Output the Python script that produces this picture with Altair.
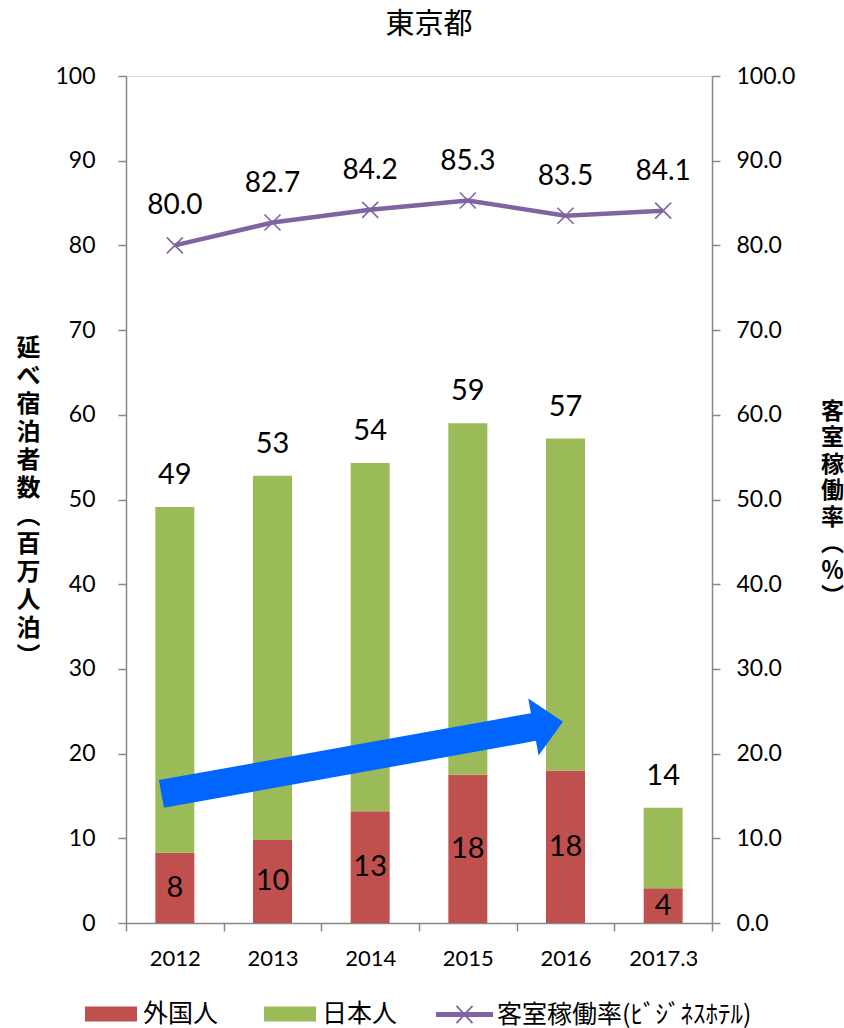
import altair as alt
import pandas as pd

years = ["2012", "2013", "2014", "2015", "2016", "2017.3"]
foreign = [8.3, 9.8, 13.2, 17.5, 18.0, 4.1]
japanese = [40.8, 43.0, 41.1, 41.5, 39.2, 9.5]
occupancy = [80.0, 82.7, 84.2, 85.3, 83.5, 84.1]

series_names = ["外国人", "日本人"]
line_name = "客室稼働率(ﾋﾞｼﾞﾈｽﾎﾃﾙ)"
left_title = ["延", "べ", "宿", "泊", "者", "数", "︵", "百", "万", "人", "泊", "︶"]
right_title = ["客", "室", "稼", "働", "率", "︵", "％", "︶"]

# trend arrow annotation (category, value at arrow centre)
arrow_year = ["2014"]
arrow_value = [19.5]

RED = "#C0504D"
GREEN = "#9BBB59"
PURPLE = "#8064A2"
BLUE = "#0066FF"
GRAY = "#888888"
NUM_FONT = "Lato"
CJK = "Noto Sans CJK JP"

rows = []
for i, y in enumerate(years):
    rows.append({"year": y, "series": series_names[0], "value": foreign[i], "ord": 0})
    rows.append({"year": y, "series": series_names[1], "value": japanese[i], "ord": 1})
bars_df = pd.DataFrame(rows)

lab_df = pd.DataFrame({
    "year": years,
    "mid": [f / 2 for f in foreign],
    "flab": foreign,
    "total": [f + j for f, j in zip(foreign, japanese)],
})
line_df = pd.DataFrame({"year": years, "occ": occupancy, "lname": [line_name] * len(years)})
arrow_df = pd.DataFrame({"year": arrow_year, "av": arrow_value})

xaxis = alt.Axis(
    title=None, labelAngle=0, tickBand="extent", tickSize=8,
    labelFont=NUM_FONT, labelFontSize=22, labelColor="black", labelPadding=17,
    domainColor=GRAY, tickColor=GRAY, domainWidth=1.5, tickWidth=1.5,
)
xscale = alt.Scale(paddingInner=0, paddingOuter=0)


def xenc():
    return alt.X("year:N", sort=years, scale=xscale, axis=xaxis)


yscale = alt.Scale(domain=[0, 100], nice=False, zero=True)

left_axis = alt.Axis(
    values=list(range(0, 101, 10)), grid=False, tickSize=8,
    labelFont=NUM_FONT, labelFontSize=23, labelColor="black", labelPadding=23,
    domainColor=GRAY, tickColor=GRAY, domainWidth=1.5, tickWidth=1.5,
    title=left_title, titleAngle=0, titleFont=CJK, titleFontSize=24, titleFontWeight="bold",
    titleColor="black", titleLineHeight=28, titleAlign="center", titleBaseline="top",
    titleX=-98, titleY=260, orient="left",
)
right_axis = alt.Axis(
    values=list(range(0, 101, 10)), format=".1f", grid=False, tickSize=8,
    labelFont=NUM_FONT, labelFontSize=23, labelColor="black", labelPadding=16,
    domainColor=GRAY, tickColor=GRAY, domainWidth=1.5, tickWidth=1.5,
    title=right_title, titleAngle=0, titleFont=CJK, titleFontSize=23, titleFontWeight="bold",
    titleColor="black", titleLineHeight=26.5, titleAlign="center", titleBaseline="top",
    titleX=120, titleY=324, orient="right",
)

rect_path = "M-1,-0.29L1,-0.29L1,0.29L-1,0.29Z"
bars = alt.Chart(bars_df).mark_bar(size=39).encode(
    x=xenc(),
    y=alt.Y("value:Q", stack="zero", scale=yscale, axis=left_axis),
    color=alt.Color(
        "series:N",
        scale=alt.Scale(domain=series_names, range=[RED, GREEN]),
        legend=alt.Legend(
            title=None, orient="none", direction="horizontal", legendX=-41, legendY=912,
            symbolType=rect_path, symbolSize=2704, symbolStrokeWidth=0,
            labelFont=CJK, labelFontSize=25, labelColor="black", labelOffset=6,
            columnPadding=45, padding=0, labelLimit=400,
        ),
    ),
    order=alt.Order("ord:Q", sort="ascending"),
)

arrow_path = "M-1,-0.069L0.853,-0.069L0.853,-0.142L1,0L0.853,0.142L0.853,0.069L-1,0.069Z"
arrow = alt.Chart(arrow_df).mark_point(
    shape=arrow_path, size=166464, angle=349.8, filled=True, fill=BLUE,
    opacity=1, strokeWidth=0, xOffset=-8,
).encode(
    x=xenc(),
    y=alt.Y("av:Q", scale=yscale, axis=left_axis),
)

flabels = alt.Chart(lab_df).mark_text(
    font=NUM_FONT, fontSize=29, color="black", baseline="middle", align="center"
).encode(
    x=xenc(),
    y=alt.Y("mid:Q", scale=yscale, axis=left_axis),
    text=alt.Text("flab:Q", format=".0f"),
)
tlabels = alt.Chart(lab_df).mark_text(
    font=NUM_FONT, fontSize=29, color="black", baseline="middle", align="center", dy=-32
).encode(
    x=xenc(),
    y=alt.Y("total:Q", scale=yscale, axis=left_axis),
    text=alt.Text("total:Q", format=".0f"),
)

left = alt.layer(bars, arrow, flabels, tlabels)

legend_line_path = "M-1,0L1,0M-1,-0.06L1,-0.06M-1,0.06L1,0.06M-0.28,-0.3L0.28,0.3M-0.28,0.3L0.28,-0.3"
line = alt.Chart(line_df).mark_line(strokeWidth=4.5).encode(
    x=xenc(),
    y=alt.Y("occ:Q", scale=yscale, axis=right_axis),
    stroke=alt.Stroke(
        "lname:N",
        scale=alt.Scale(domain=[line_name], range=[PURPLE]),
        legend=alt.Legend(
            title=None, orient="none", direction="horizontal", legendX=309, legendY=909,
            symbolType=legend_line_path, symbolSize=3249, symbolStrokeWidth=1.8,
            labelFont=CJK, labelFontSize=25, labelColor="black", labelOffset=3,
            padding=0, labelLimit=500,
        ),
    ),
)
x_path = "M-1,-1L1,1M-1,1L1,-1"
points = alt.Chart(line_df).mark_point(
    shape=x_path, size=256, filled=False, stroke=PURPLE, strokeWidth=1.6, opacity=1
).encode(
    x=xenc(),
    y=alt.Y("occ:Q", scale=yscale, axis=right_axis),
)
llabels = alt.Chart(line_df).mark_text(
    font=NUM_FONT, fontSize=28, color="black", baseline="middle", align="center", dy=-39
).encode(
    x=xenc(),
    y=alt.Y("occ:Q", scale=yscale, axis=right_axis),
    text=alt.Text("occ:Q", format=".1f"),
)
right = alt.layer(line, points, llabels)

chart = alt.layer(left, right).resolve_scale(y="independent").properties(
    width=586,
    height=847,
    padding={"left": 126, "top": 76, "right": 132, "bottom": 105},
    autosize=alt.AutoSizeParams(type="none"),
    title=alt.TitleParams(
        "東京都", font=CJK, fontSize=29, fontWeight="normal", color="black",
        anchor="middle", dx=10, offset=25,
    ),
).configure_view(strokeWidth=0).configure(background="white")

chart.save("out.html", embed_options={"renderer": "svg", "actions": False})
